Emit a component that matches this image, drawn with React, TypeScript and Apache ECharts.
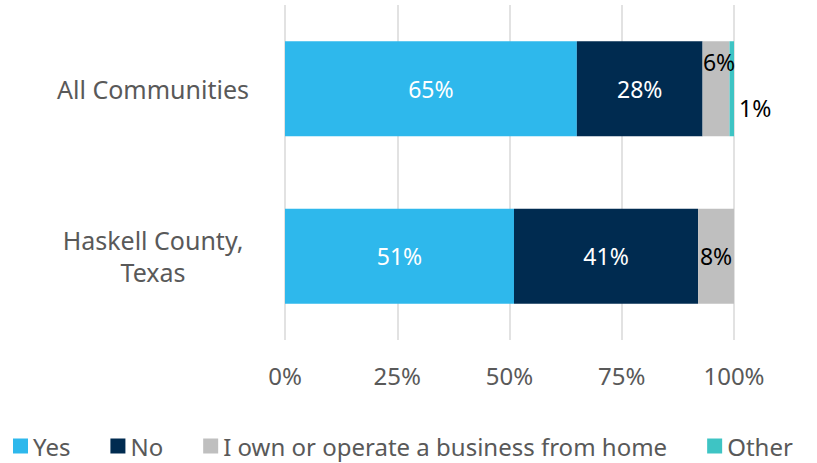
import React, { useEffect, useRef } from "react";
import * as echarts from "echarts";

const categories = ["Haskell County,\nTexas", "All Communities"];
const seriesNames = ["Yes", "No", "I own or operate a business from home", "Other"];
const yesValues = [51, 65];
const noValues = [41, 28];
const homeValues = [8, 6];
const otherValues = [0, 1];
const tickLabels = ["0%", "25%", "50%", "75%", "100%"];
const colors = ["#2EB8EC", "#002B50", "#BFBFBF", "#3EC4C4"];

const FONT = "'Noto Sans', sans-serif";

export default function App() {
  const ref = useRef<HTMLDivElement>(null);
  useEffect(() => {
    if (!ref.current) return;
    const chart = echarts.init(ref.current, null, { renderer: "svg" });
    const whiteLabel = {
      show: true,
      position: "inside",
      color: "#FFFFFF",
      fontSize: 23,
      fontFamily: FONT,
      formatter: (p: any) => (p.value > 0 ? p.value + "%" : ""),
    };
    chart.setOption({
      animation: false,
      textStyle: { fontFamily: FONT },
      grid: { left: 285, right: 83, top: 5, height: 335 },
      legend: {
        top: 429,
        left: 8,
        itemWidth: 15,
        itemHeight: 15,
        itemGap: 40,
        itemTextGap: 6,
        icon: "rect",
        textStyle: { fontSize: 24, lineHeight: 24, color: "#595959", fontFamily: FONT },
        data: seriesNames,
      },
      xAxis: {
        type: "value",
        min: 0,
        max: 100,
        interval: 25,
        axisLine: { show: false },
        axisTick: { show: false },
        splitLine: { show: true, lineStyle: { color: "#D9D9D9", width: 1.5 } },
        axisLabel: {
          margin: 23,
          fontSize: 24,
          color: "#595959",
          fontFamily: FONT,
          formatter: (v: number) => tickLabels[Math.round(v / 25)],
        },
      },
      yAxis: {
        type: "category",
        data: categories,
        axisLine: { show: false },
        axisTick: { show: false },
        axisLabel: {
          margin: 132,
          align: "center",
          fontSize: 25,
          lineHeight: 32,
          color: "#595959",
          fontFamily: FONT,
        },
      },
      series: [
        {
          name: seriesNames[0],
          type: "bar",
          stack: "total",
          barWidth: 95,
          itemStyle: { color: colors[0] },
          label: whiteLabel,
          data: yesValues,
        },
        {
          name: seriesNames[1],
          type: "bar",
          stack: "total",
          itemStyle: { color: colors[1] },
          label: whiteLabel,
          data: noValues,
        },
        {
          name: seriesNames[2],
          type: "bar",
          stack: "total",
          itemStyle: { color: colors[2] },
          label: { show: true, position: "inside", color: "#000000", fontSize: 23, fontFamily: FONT, formatter: "{c}%" },
          data: [
            { value: homeValues[0] },
            { value: homeValues[1], label: { offset: [3, -27] } },
          ],
        },
        {
          name: seriesNames[3],
          type: "bar",
          stack: "total",
          itemStyle: { color: colors[3] },
          label: {
            show: true,
            position: "right",
            distance: 5,
            offset: [0, 19],
            color: "#000000",
            fontSize: 23,
            fontFamily: FONT,
            formatter: (p: any) => (p.value > 0 ? p.value + "%" : ""),
          },
          data: otherValues,
        },
      ],
    });
    return () => chart.dispose();
  }, []);
  return <div ref={ref} style={{ width: 817, height: 463, position: "absolute", left: 0, top: 0 }} />;
}
